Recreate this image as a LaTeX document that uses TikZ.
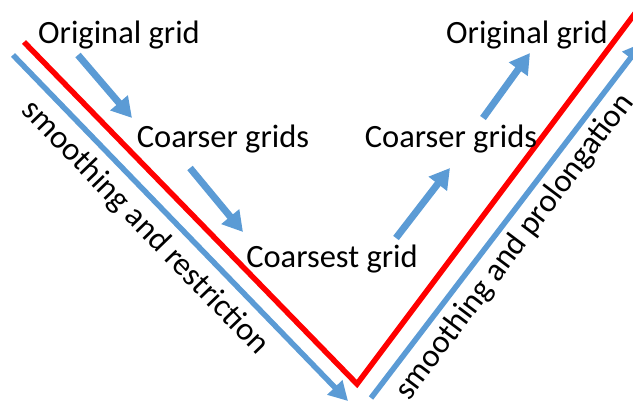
\documentclass[tikz,border=0pt]{standalone}
\usepackage{fontspec}
\setmainfont{Carlito}
\usetikzlibrary{arrows.meta}

\definecolor{vred}{RGB}{255,0,0}
\definecolor{vblue}{RGB}{91,155,213}

\begin{document}
\begin{tikzpicture}[
      x=1pt, y=-1pt,
      font=\fontsize{32.5}{39}\selectfont,
      lbl/.style={inner sep=0pt, anchor=base},
      side/.style={inner sep=0pt, anchor=center},
      redv/.style={draw=vred, line width=5.5pt},
      bluev/.style={draw=vblue, line width=5.5pt,
                    -{Triangle[width=20pt,length=19pt]}},
      levelarrow/.style={draw=vblue, line width=7pt,
                    -{Triangle[width=22pt,length=20pt]}},
    ]
    \useasboundingbox (0,0) rectangle (633,400);
    \clip (0,0) rectangle (633,400);
    % corners of the V
    \coordinate (lt) at (24,42);
    \coordinate (bot) at (357,384);
    \coordinate (rt) at (645,0);
    \coordinate (blt) at (13,55);
    \coordinate (bltip) at (348,401);
    \coordinate (brb) at (371,398);
    \coordinate (brtip) at (642,43);
    % V lines
    \draw[redv] (lt) -- (bot) -- (rt);
    \draw[bluev] (blt) -- (bltip);
    \draw[bluev] (brb) -- (brtip);
    % grid levels
    \node[lbl] (origL)   at (119,43)  {Original grid};
    \node[lbl] (coarseL) at (223,147) {Coarser grids};
    \node[lbl] (coarsest) at (332,267) {Coarsest grid};
    \node[lbl] (coarseR) at (451,147) {Coarser grids};
    \node[lbl] (origR)   at (527,43)  {Original grid};
    % arrows between levels
    \coordinate (a1s) at (78,55);   \coordinate (a1e) at (132,118);
    \coordinate (a2s) at (190,168); \coordinate (a2e) at (243,232);
    \coordinate (a3s) at (396,238); \coordinate (a3e) at (450,168);
    \coordinate (a4s) at (483,118); \coordinate (a4e) at (530,53);
    \foreach \s/\e in {a1s/a1e,a2s/a2e,a3s/a3e,a4s/a4e}{
      \draw[levelarrow] (\s) -- (\e);
    }
    % side labels
    \node[side, rotate=-46] (restr) at (145,228) {smoothing and restriction};
    \node[side, rotate=53]  (prolo) at (515,247) {smoothing and prolongation};
  \end{tikzpicture}
\end{document}
